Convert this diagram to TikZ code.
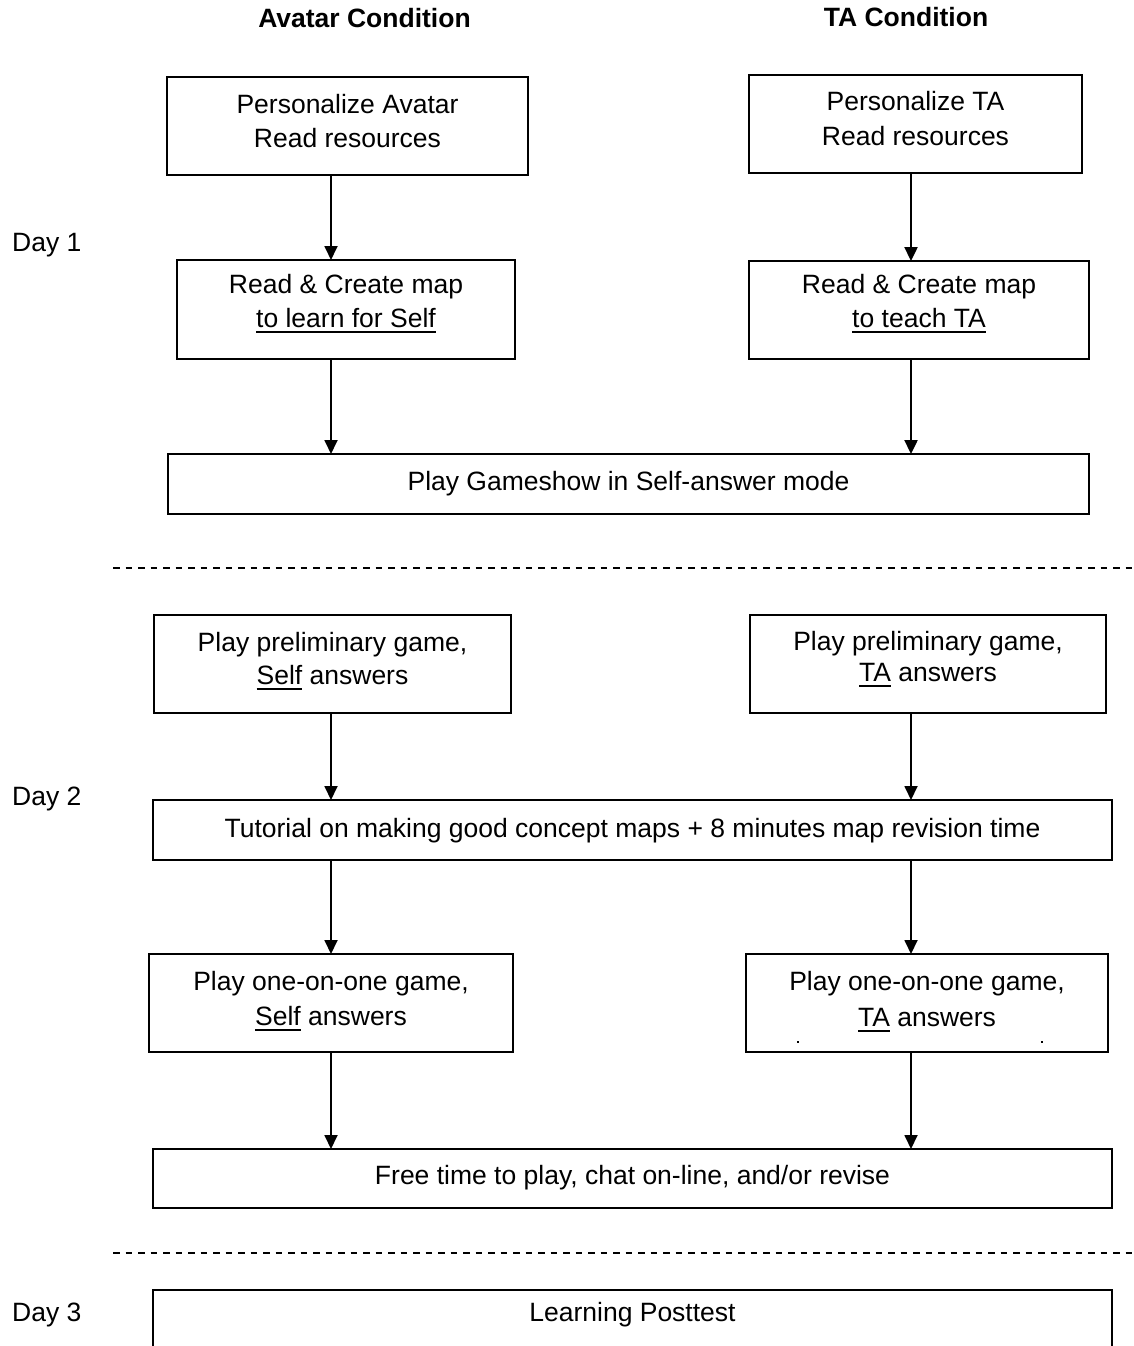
\documentclass[tikz,border=0pt]{standalone}
\usepackage{fontspec}
\setmainfont{Liberation Sans}
\usetikzlibrary{arrows.meta}
\newcommand\myul[1]{\setbox0\hbox{#1}\rlap{\rule[-6pt]{\wd0}{1.8pt}}\box0\relax}
\begin{document}
\begin{tikzpicture}[x=1pt,y=-1pt]
\tikzset{
 box/.style={draw, line width=1.8pt, inner sep=0pt, outer sep=0pt, rectangle},
 txt/.style={font=\fontsize{26.5}{35}\selectfont, anchor=base, inner sep=0pt},
 hd/.style={font=\fontsize{26.5}{35}\selectfont\bfseries, anchor=base, inner sep=0pt},
 daylbl/.style={font=\fontsize{26.5}{35}\selectfont, anchor=base west, inner sep=0pt},
 arr/.style={line width=1.8pt, -{Triangle[length=14pt,width=13pt]}},
 arrb/.style={arr, line width=2.4pt},
 sepline/.style={line width=1.3pt, dash pattern=on 6.5pt off 6pt},
}
\useasboundingbox (0,0) rectangle (1133,1346);
\clip (0,0) rectangle (1133,1346);

% column x positions for connectors
\coordinate (xl) at (331,0);
\coordinate (xr) at (911,0);

% headings
\node[hd] (hav) at (364.5,28) {Avatar Condition};
\node[hd] (hta) at (906,27) {TA Condition};

% day labels
\node[daylbl] (d1) at (12,251) {Day 1};
\node[daylbl] (d2) at (12,805) {Day 2};
\node[daylbl] (d3) at (12,1321) {Day 3};

% Day 1 boxes
\node[box, minimum width=361pt, minimum height=98pt] (a1) at (347.5,126) {};
\node[txt] (a1t1) at (347.5,113) {Personalize Avatar};
\node[txt] (a1t2) at (347.5,147) {Read resources};

\node[box, minimum width=333pt, minimum height=98pt] (t1) at (915.5,124) {};
\node[txt] (t1t1) at (915.5,110) {Personalize TA};
\node[txt] (t1t2) at (915.5,145) {Read resources};

\node[box, minimum width=338pt, minimum height=99pt] (a2) at (346,309.5) {};
\node[txt] (a2t1) at (346,293) {Read \& Create map};
\node[txt] (a2t2) at (346,327) {\myul{to learn for Self}};

\node[box, minimum width=340pt, minimum height=98pt] (t2) at (919,310) {};
\node[txt] (t2t1) at (919,293) {Read \& Create map};
\node[txt] (t2t2) at (919,327) {\myul{to teach TA}};

\node[box, minimum width=921pt, minimum height=60pt] (g) at (628.5,484) {};
\node[txt] (gt) at (628.5,490) {Play Gameshow in Self-answer mode};

\draw[arr] (a1.south -| xl) -- (a2.north -| xl);
\draw[arrb] (t1.south -| xr) -- (t2.north -| xr);
\draw[arr] (a2.south -| xl) -- (g.north -| xl);
\draw[arrb] (t2.south -| xr) -- (g.north -| xr);

% separator 1
\coordinate (s1a) at (113,568);
\coordinate (s1b) at (1133,568);
\draw[sepline] (s1a) -- (s1b);

% Day 2 boxes
\node[box, minimum width=357pt, minimum height=98pt] (a3) at (332.5,664) {};
\node[txt] (a3t1) at (332.5,651) {Play preliminary game,};
\node[txt] (a3t2) at (332.5,684) {\myul{Self} answers};

\node[box, minimum width=356pt, minimum height=98pt] (t3) at (928,664) {};
\node[txt] (t3t1) at (928,650) {Play preliminary game,};
\node[txt] (t3t2) at (928,681) {\myul{TA} answers};

\node[box, minimum width=959pt, minimum height=60pt] (tut) at (632.5,830) {};
\node[txt] (tutt) at (632.5,837) {Tutorial on making good concept maps + 8 minutes map revision time};

\node[box, minimum width=364pt, minimum height=98pt] (a4) at (331,1003) {};
\node[txt] (a4t1) at (331,990) {Play one-on-one game,};
\node[txt] (a4t2) at (331,1025) {\myul{Self} answers};

\node[box, minimum width=362pt, minimum height=98pt] (t4) at (927,1003) {};
\node[txt] (t4t1) at (927,990) {Play one-on-one game,};
\node[txt] (t4t2) at (927,1026) {\myul{TA} answers};
\fill (797,1041) rectangle (799,1042.5);
\fill (1041,1041) rectangle (1043,1042.5);

\node[box, minimum width=959pt, minimum height=59pt] (f) at (632.5,1178.5) {};
\node[txt] (ft) at (632.5,1184) {Free time to play, chat on-line, and/or revise};

\draw[arr] (a3.south -| xl) -- (tut.north -| xl);
\draw[arr] (t3.south -| xr) -- (tut.north -| xr);
\draw[arr] (tut.south -| xl) -- (a4.north -| xl);
\draw[arr] (tut.south -| xr) -- (t4.north -| xr);
\draw[arr] (a4.south -| xl) -- (f.north -| xl);
\draw[arr] (t4.south -| xr) -- (f.north -| xr);

% separator 2
\coordinate (s2a) at (113,1253);
\coordinate (s2b) at (1133,1253);
\draw[sepline] (s2a) -- (s2b);

% Day 3
\node[box, minimum width=959pt, minimum height=120pt] (l) at (632.5,1350) {};
\node[txt] (lt) at (632.5,1321) {Learning Posttest};
\end{tikzpicture}
\end{document}
